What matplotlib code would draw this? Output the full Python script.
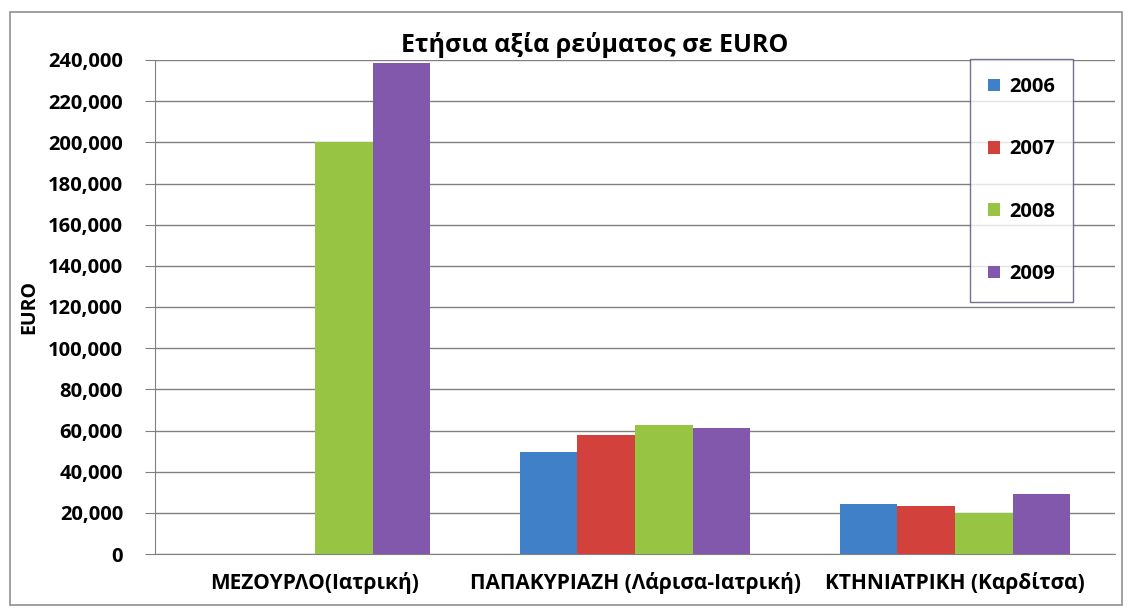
import numpy as np
import matplotlib

matplotlib.use("Agg")
import matplotlib.pyplot as plt
from matplotlib.patches import Rectangle

categories = ["ΜΕΖΟΥΡΛΟ(Ιατρική)", "ΠΑΠΑΚΥΡΙΑΖΗ (Λάρισα-Ιατρική)", "ΚΤΗΝΙΑΤΡΙΚΗ (Καρδίτσα)"]
years = ["2006", "2007", "2008", "2009"]
values_2006 = [0, 49500, 24300]
values_2007 = [0, 57800, 23300]
values_2008 = [200000, 62700, 19900]
values_2009 = [238500, 61200, 29100]
yticks = list(range(0, 240001, 20000))

colors = ["#3f80c8", "#d2413c", "#98c444", "#8258ac"]
series = [values_2006, values_2007, values_2008, values_2009]

plt.rcParams["font.family"] = ["Open Sans", "DejaVu Sans"]
plt.rcParams["font.weight"] = "bold"

fig = plt.figure(figsize=(11.3, 6.15), dpi=100)
ax = fig.add_axes([155 / 1130, 1 - 554 / 615, 960 / 1130, 494 / 615])

x = np.arange(len(categories))
width = 0.18
for i, (vals, year, c) in enumerate(zip(series, years, colors)):
    ax.bar(x + (i - 1.5) * width, vals, width, color=c, label=year, zorder=3)

ax.set_xlim(-0.5, 2.5)
ax.set_ylim(0, 240000)
ax.set_yticks(yticks)
ax.set_yticklabels([f"{v:,}" for v in yticks], fontsize=14.5, fontweight="bold")
ax.set_xticks(x)
ax.set_xticklabels(categories, fontsize=15, fontweight="bold")
ax.tick_params(axis="x", length=0, pad=13)
ax.tick_params(axis="y", length=7, color="#808080", pad=16)
ax.grid(axis="y", color="#808080", linewidth=1.0, zorder=0)
for side in ["top", "right"]:
    ax.spines[side].set_visible(False)
for side in ["left", "bottom"]:
    ax.spines[side].set_color("#808080")
ax.set_ylabel("EURO", fontsize=14, fontweight="bold", labelpad=6)
fig.text(595 / 1130, 1 - 45 / 615, "Ετήσια αξία ρεύματος σε EURO",
         ha="center", va="center", fontsize=18, fontweight="bold")

leg = ax.legend(loc="upper left", bbox_to_anchor=((970 - 155) / 960, (554 - 59) / 494),
                frameon=True, fancybox=False, fontsize=14.5, labelspacing=2.1,
                handlelength=0.6, handleheight=0.6, handletextpad=0.45,
                borderpad=0.9, borderaxespad=0)
leg.get_frame().set_edgecolor("#505070")
leg.get_frame().set_linewidth(1.0)
for t in leg.get_texts():
    t.set_fontweight("bold")

fig.patches.append(Rectangle((10 / 1130, 1 - 605 / 615), 1112 / 1130, 593 / 615,
                             transform=fig.transFigure, fill=False,
                             edgecolor="#909090", linewidth=1.2))

fig.savefig("out.png", dpi=100)
